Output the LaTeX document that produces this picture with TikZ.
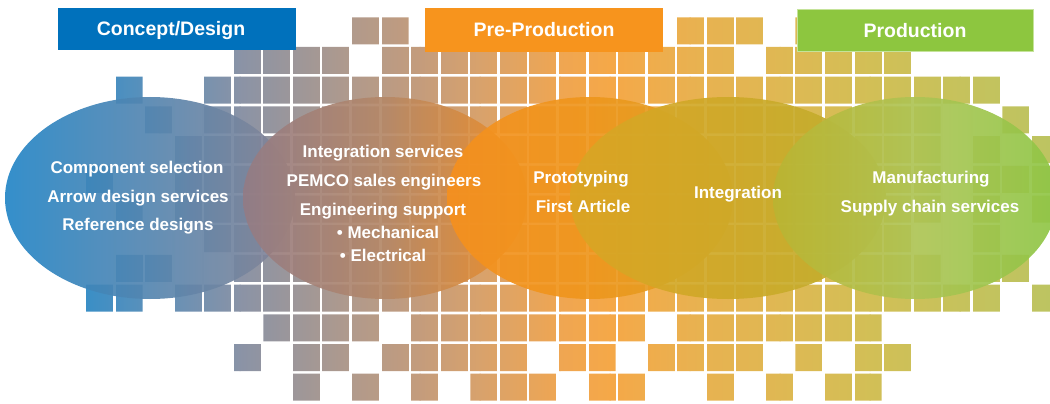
\documentclass[tikz,border=0pt]{standalone}
\usepackage{fontspec}
\setmainfont{Liberation Sans}
\definecolor{g0}{HTML}{3A8FC6}
\definecolor{g1}{HTML}{6290B8}
\definecolor{g2}{HTML}{8A93A6}
\definecolor{g3}{HTML}{B09A8C}
\definecolor{g4}{HTML}{C49C7C}
\definecolor{g5}{HTML}{D8A26C}
\definecolor{g6}{HTML}{EFA652}
\definecolor{g7}{HTML}{F5A848}
\definecolor{g8}{HTML}{E9B150}
\definecolor{g9}{HTML}{DFB853}
\definecolor{g10}{HTML}{D2BF56}
\definecolor{g11}{HTML}{C6C25C}
\definecolor{g12}{HTML}{BCC462}
\definecolor{cdblue}{HTML}{0071BC}
\definecolor{ppor}{HTML}{F7941D}
\definecolor{prgreen}{HTML}{8DC63F}
\definecolor{prrim}{HTML}{C5E39A}
\definecolor{eb1}{HTML}{2386C6}
\definecolor{eb2}{HTML}{5586B0}
\definecolor{eb3}{HTML}{8A8494}
\definecolor{ew1}{HTML}{937C86}
\definecolor{ew2}{HTML}{B58867}
\definecolor{ew3}{HTML}{F08E25}
\definecolor{eo1}{HTML}{F5901E}
\definecolor{eo2}{HTML}{EE961D}
\definecolor{eo3}{HTML}{DCA222}
\definecolor{ey1}{HTML}{DAA524}
\definecolor{ey2}{HTML}{CEA928}
\definecolor{ey3}{HTML}{BEAE2E}
\definecolor{eg1}{HTML}{BAB432}
\definecolor{eg2}{HTML}{AEC455}
\definecolor{eg3}{HTML}{8EC646}
\begin{document}
\begin{tikzpicture}[x=1pt,y=-1pt,stage/.style={minimum width=238pt,minimum height=42pt,inner sep=0pt,text=white,font=\fontsize{19.5}{20}\selectfont\bfseries,text height=14pt,text depth=0pt},task/.style={anchor=base,inner sep=0pt,text=white,font=\fontsize{17}{20}\selectfont\bfseries},phase/.style={fill opacity=0.92}]
\def\xo{86};
\def\yo{17.3};
\def\dx{29.56};
\def\dy{29.7};
\def\sq{27};

\useasboundingbox (0,0) rectangle (1050,404);

\begin{scope}
\clip \foreach \r/\a/\b in {0/9/10,0/20/22,0/24/24,
  1/5/8,1/10/21,1/23/27,
  2/1/1,2/4/30,
  3/2/2,3/4/28,3/31/31,
  4/3/28,4/30/30,4/32/32,
  5/0/0,5/3/28,5/30/32,
  6/1/1,6/3/28,6/30/30,6/32/32,
  7/4/27,7/30/30,
  8/1/2,8/5/28,8/30/31,
  9/0/1,9/3/30,9/32/32,
  10/6/9,10/11/18,10/20/26,
  11/5/5,11/7/8,11/10/14,11/16/17,11/19/22,11/24/24,11/26/27,
  12/7/7,12/9/9,12/11/11,12/13/15,12/17/18,12/21/21,12/23/23,12/25/26}
  {(\xo+\dx*\a,\yo+\dy*\r) rectangle (\xo+\dx*\b+\sq,\yo+\dy*\r+\sq)};
\foreach \xa/\ca/\xb/\cb in {86/g0/160/g1,160/g1/240/g2,240/g2/350/g3,350/g3/420/g4,420/g4/480/g5,480/g5/560/g6,560/g6/610/g7,610/g7/690/g8,690/g8/780/g9,780/g9/870/g10,870/g10/960/g11,960/g11/1060/g12}
  \shade[left color=\ca,right color=\cb] (\xa-0.5,0) rectangle (\xb+0.5,404);
\end{scope}
\foreach \i in {1,...,32}
  \draw[white,line width=2.56pt] (\xo+\dx*\i-1.28,\yo) -- (\xo+\dx*\i-1.28,\yo+\dy*12+\sq);

\shade[phase,left color=eb1,right color=eb3,middle color=eb2] (150,198) ellipse [x radius=145pt,y radius=101pt];
\shade[phase,left color=ew1,right color=ew3,middle color=ew2] (385,198) ellipse [x radius=142pt,y radius=101pt];
\shade[phase,left color=eo1,right color=eo3,middle color=eo2] (590,198) ellipse [x radius=143pt,y radius=101pt];
\shade[phase,left color=ey1,right color=ey3,middle color=ey2] (728,198) ellipse [x radius=158pt,y radius=101pt];
\shade[phase,left color=eg1,right color=eg3,middle color=eg2] (915,198) ellipse [x radius=142pt,y radius=101pt];

\node[stage,fill=cdblue] (concept) at (177,29) {Concept/Design\hspace*{12pt}};
\node[stage,fill=ppor,minimum height=44pt] (preprod) at (544,30) {Pre-Production};
\node[stage,fill=prgreen,draw=prrim,line width=1pt,minimum width=236pt] (prod) at (915,31) {Production};

\node[task] (cd1) at (137,173.5) {Component selection};
\node[task] (cd2) at (138,202) {Arrow design services};
\node[task] (cd3) at (138,230.5) {Reference designs};

\node[task] (pe1) at (383,157) {Integration services};
\node[task] (pe2) at (384,186) {PEMCO sales engineers};
\node[task] (pe3) at (383,215) {Engineering support};
\node[task] (pe4) at (388,238) {• Mechanical};
\node[task] (pe5) at (383,261) {• Electrical};

\node[task] (pp1) at (581,183) {Prototyping};
\node[task] (pp2) at (583,212) {First Article};

\node[task] (in1) at (738,198) {Integration};

\node[task] (pr1) at (931,183) {Manufacturing};
\node[task] (pr2) at (930,212) {Supply chain services};
\end{tikzpicture}
\end{document}
